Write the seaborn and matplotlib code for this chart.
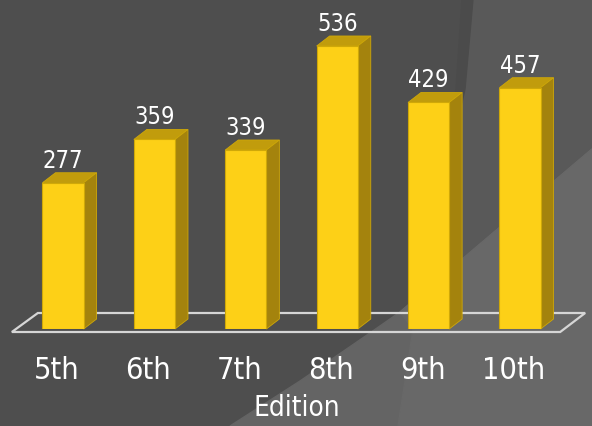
import matplotlib
matplotlib.use("Agg")
import matplotlib.pyplot as plt
from matplotlib.patches import Polygon
from matplotlib.transforms import IdentityTransform, ScaledTranslation
import seaborn as sns

# ── Data ───────────────────────────────────────────────────────────────────
editions = ["5th", "6th", "7th", "8th", "9th", "10th"]
counts   = [277, 359, 339, 536, 429, 457]

# ── Style ──────────────────────────────────────────────────────────────────
W, H, DPI = 592, 427, 100
FRONT = "#FDD017"
TOP   = "#C19C0C"
SIDE  = "#A4830D"
EDGE  = "#CFA808"
DX, DY = 13, 10          # pseudo-3D depth, pixels

sns.set_theme(style="white")
plt.rcParams["font.family"] = ["DejaVu Sans"]
plt.rcParams["font.stretch"] = "condensed"

fig = plt.figure(figsize=(W / DPI, H / DPI), dpi=DPI)

# ── Background swooshes (pixel coords) ─────────────────────────────────────
bg = fig.add_axes([0, 0, 1, 1])
bg.set_xlim(0, W); bg.set_ylim(H, 0); bg.axis("off")
bg.add_patch(Polygon([(0, 0), (W, 0), (W, H), (0, H)], color="#4e4e4e"))
bg.add_patch(Polygon([(473, 0), (W, 0), (W, H), (398, H), (413, 330),
                      (440, 200), (465, 90)], color="#595959"))
bg.add_patch(Polygon([(462, 0), (473, 0), (465, 90), (440, 200), (413, 330),
                      (398, H), (390, H), (405, 330), (431, 200), (456, 90)],
                     color="#4b4b4b"))
bg.add_patch(Polygon([(W, 150), (480, 245), (400, 313), (367, 336),
                      (300, 382), (230, H), (W, H)], color="#646464"))
bg.add_patch(Polygon([(400, 313), (413, 330), (398, H), (W, H), (W, 150),
                      (480, 245)], color="#686868"))

# ── Main axes ──────────────────────────────────────────────────────────────
ax = fig.add_axes([8.2 / W, 97 / H, 566.6 / W, 316.8 / H])
ax.patch.set_alpha(0)
sns.barplot(x=editions, y=counts, ax=ax, color=FRONT, width=0.45,
            saturation=1, edgecolor=EDGE, linewidth=0.8, zorder=3)
ax.set_xlim(-0.6, 5.6)
ax.set_ylim(0, 600)
ax.set_yticks([]); ax.set_ylabel("")
sns.despine(ax=ax, left=True, bottom=True)
ax.tick_params(axis="x", length=0, pad=18.5, labelsize=22, colors="white")
shift = ScaledTranslation(-6 / DPI, 0, fig.dpi_scale_trans)
for lbl in ax.get_xticklabels():
    lbl.set_transform(lbl.get_transform() + shift)
ax.set_xlabel("Edition", fontsize=20, color="white")
ax.xaxis.set_label_coords(0.51, -0.202)
ax.grid(False)

# floor parallelogram
fl = ax.transData.transform((-0.56, 0))
fr = ax.transData.transform((5.44, 0))
floor = [(fl[0], fl[1] - 3), (fr[0], fr[1] - 3),
         (fr[0] + 25, fr[1] + 16), (fl[0] + 26, fl[1] + 16)]
ax.add_patch(Polygon(floor, closed=True, fill=False, edgecolor="#d6d6d6",
                     lw=1.6, transform=IdentityTransform(), clip_on=False,
                     zorder=1))

# depth faces for each bar
for p in list(ax.patches)[:-1]:
    x0, w, h = p.get_x(), p.get_width(), p.get_height()
    px0, pyb = ax.transData.transform((x0, 0))
    px1, pyt = ax.transData.transform((x0 + w, h))
    top = [(px0, pyt), (px0 + DX, pyt + DY), (px1 + DX, pyt + DY), (px1, pyt)]
    side = [(px1, pyb), (px1, pyt), (px1 + DX, pyt + DY), (px1 + DX, pyb + DY)]
    for verts, c in [(top, TOP), (side, SIDE)]:
        ax.add_patch(Polygon(verts, closed=True, facecolor=c, edgecolor=EDGE,
                             lw=0.6, transform=IdentityTransform(),
                             clip_on=False, zorder=2.5))

ax.bar_label(ax.containers[0], labels=[str(v) for v in counts], padding=8,
             color="white", fontsize=17)

fig.savefig("out.png", dpi=DPI)
